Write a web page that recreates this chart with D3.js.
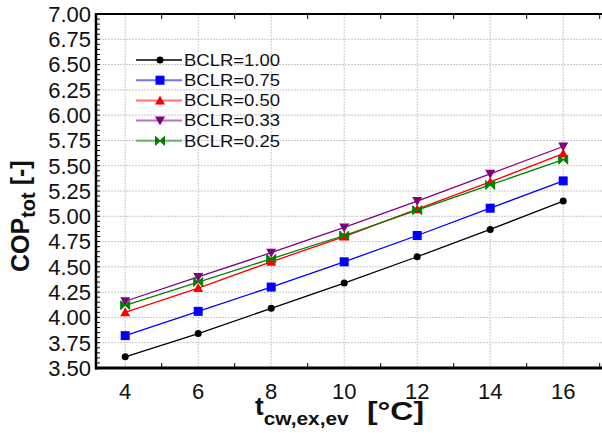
<!DOCTYPE html>
<html><head><meta charset="utf-8">
<script src="https://cdn.jsdelivr.net/npm/d3@7"></script>
<style>
html,body{margin:0;padding:0;background:#fff;}
svg{display:block;font-family:"Liberation Sans",Arial,sans-serif;}
</style></head>
<body>
<svg id="c" width="602" height="433"></svg>
<script>
const xValues = [4, 6, 8, 10, 12, 14, 16];
const seriesNames = ["BCLR=1.00", "BCLR=0.75", "BCLR=0.50", "BCLR=0.33", "BCLR=0.25"];
const bclr100 = [3.61, 3.84, 4.09, 4.34, 4.60, 4.87, 5.15];
const bclr075 = [3.82, 4.06, 4.30, 4.55, 4.81, 5.08, 5.35];
const bclr050 = [4.05, 4.29, 4.55, 4.80, 5.07, 5.34, 5.62];
const bclr033 = [4.16, 4.40, 4.64, 4.89, 5.15, 5.42, 5.69];
const bclr025 = [4.12, 4.35, 4.58, 4.81, 5.06, 5.31, 5.56];
const yTicks = [3.5, 3.75, 4.0, 4.25, 4.5, 4.75, 5.0, 5.25, 5.5, 5.75, 6.0, 6.25, 6.5, 6.75, 7.0];
const xTicks = [4, 6, 8, 10, 12, 14, 16];

const seriesValues = [bclr100, bclr075, bclr050, bclr033, bclr025];
const colors = ["#000000", "#0000ff", "#ff0000", "#800080", "#008000"];
const markers = ["circle", "square", "triUp", "triDown", "bowtie"];

const svg = d3.select("#c");
const x = d3.scaleLinear().domain([3.2, 17.2]).range([96, 607]);
const y = d3.scaleLinear().domain([3.5, 7.0]).range([368, 14]);
const L = 96, R = 607, T = 14, B = 368;

// grid
const grid = svg.append("g");
grid.selectAll("line.h").data(yTicks.slice(1)).enter().append("line")
  .attr("x1", L).attr("x2", R).attr("y1", d => y(d)).attr("y2", d => y(d))
  .attr("stroke", "#c8c8c8").attr("stroke-width", 1).attr("stroke-dasharray", "2,1");
grid.selectAll("line.v").data(xTicks).enter().append("line")
  .attr("y1", T).attr("y2", B).attr("x1", d => x(d)).attr("x2", d => x(d))
  .attr("stroke", "#c8c8c8").attr("stroke-width", 1).attr("stroke-dasharray", "2,1");

// minor ticks
const yMinor = d3.range(3.5, 7.0001, 0.05);
svg.append("g").selectAll("line").data(yMinor).enter().append("line")
  .attr("x1", L).attr("x2", L + 4).attr("y1", d => y(d)).attr("y2", d => y(d))
  .attr("stroke", "#000").attr("stroke-width", 1);
const xMinor = [5, 7, 9, 11, 13, 15, 17];
svg.append("g").selectAll("line").data(xMinor).enter().append("line")
  .attr("x1", d => x(d)).attr("x2", d => x(d)).attr("y1", B).attr("y2", B - 5)
  .attr("stroke", "#000").attr("stroke-width", 1);
svg.append("g").selectAll("line").data(xMinor).enter().append("line")
  .attr("x1", d => x(d)).attr("x2", d => x(d)).attr("y1", T).attr("y2", T + 5)
  .attr("stroke", "#000").attr("stroke-width", 1);

// axis frame
svg.append("line").attr("x1", L).attr("x2", L).attr("y1", T - 1).attr("y2", B + 1.5).attr("stroke", "#000").attr("stroke-width", 2.5);
svg.append("line").attr("x1", L - 1).attr("x2", R).attr("y1", B).attr("y2", B).attr("stroke", "#000").attr("stroke-width", 3);
svg.append("line").attr("x1", L - 1).attr("x2", R).attr("y1", T).attr("y2", T).attr("stroke", "#000").attr("stroke-width", 2);

// tick labels
svg.append("g").selectAll("text").data(yTicks).enter().append("text")
  .attr("x", 91).attr("y", d => y(d)).attr("dy", "0.36em").attr("text-anchor", "end")
  .attr("font-size", 22).attr("fill", "#111").text(d => d3.format(".2f")(d));
svg.append("g").selectAll("text").data(xTicks).enter().append("text")
  .attr("x", d => x(d)).attr("y", 399).attr("text-anchor", "middle")
  .attr("font-size", 22).attr("fill", "#111").text(d => d);

// axis titles
const yl = svg.append("text").attr("transform", "translate(29,272) rotate(-90)")
  .attr("text-anchor", "start").attr("font-weight", "bold").attr("font-size", 25).attr("fill", "#111");
yl.append("tspan").text("COP");
yl.append("tspan").attr("font-size", 20).attr("dy", 6).text("tot");
yl.append("tspan").attr("dy", -6).text(" [-]");

const xl = svg.append("text").attr("x", 255).attr("y", 415)
  .attr("font-weight", "bold").attr("font-size", 26).attr("fill", "#111");
xl.append("tspan").text("t");
xl.append("tspan").attr("font-size", 19).attr("dy", 10).attr("textLength", 85)
  .attr("lengthAdjust", "spacingAndGlyphs").text("cw,ex,ev");
svg.append("text").attr("x", 367).attr("y", 420).attr("font-weight", "bold")
  .attr("font-size", 25).attr("fill", "#111").attr("textLength", 57)
  .attr("lengthAdjust", "spacingAndGlyphs").text("[°C]");

// marker drawer
function drawMarker(g, type, cx, cy, color) {
  if (type === "circle") {
    g.append("circle").attr("cx", cx).attr("cy", cy).attr("r", 3.5).attr("fill", color);
  } else if (type === "square") {
    g.append("rect").attr("x", cx - 4.5).attr("y", cy - 4.5).attr("width", 9).attr("height", 9).attr("fill", color);
  } else if (type === "triUp") {
    g.append("path").attr("d", `M${cx},${cy - 5}L${cx + 5},${cy + 4}L${cx - 5},${cy + 4}Z`).attr("fill", color);
  } else if (type === "triDown") {
    g.append("path").attr("d", `M${cx - 5},${cy - 4}L${cx + 5},${cy - 4}L${cx},${cy + 5}Z`).attr("fill", color);
  } else if (type === "bowtie") {
    g.append("path").attr("d", `M${cx - 4.5},${cy - 4.5}L${cx},${cy}L${cx - 4.5},${cy + 4.5}Z M${cx + 4.5},${cy - 4.5}L${cx},${cy}L${cx + 4.5},${cy + 4.5}Z`).attr("fill", color).attr("stroke", color).attr("stroke-width", 1);
  }
}

// series
const line = d3.line().x((d, i) => x(xValues[i])).y(d => y(d));
seriesValues.forEach((vals, si) => {
  const g = svg.append("g");
  g.append("path").attr("d", line(vals)).attr("fill", "none")
    .attr("stroke", colors[si]).attr("stroke-width", 1.3);
  vals.forEach((v, i) => drawMarker(g, markers[si], x(xValues[i]), y(v), colors[si]));
});

// legend
const lg = svg.append("g");
seriesNames.forEach((name, i) => {
  const ly = 60 + i * 20.2;
  lg.append("line").attr("x1", 136).attr("x2", 182).attr("y1", ly).attr("y2", ly)
    .attr("stroke", colors[i]).attr("stroke-width", i === 0 ? 1.3 : 2).attr("stroke-opacity", i === 0 ? 1 : 0.55);
  drawMarker(lg, markers[i], 160, ly, colors[i]);
  lg.append("text").attr("x", 184).attr("y", ly).attr("dy", "0.36em")
    .attr("font-size", 16).attr("fill", "#111")
    .attr("textLength", 96).attr("lengthAdjust", "spacingAndGlyphs").text(name);
});
</script>
</body></html>
